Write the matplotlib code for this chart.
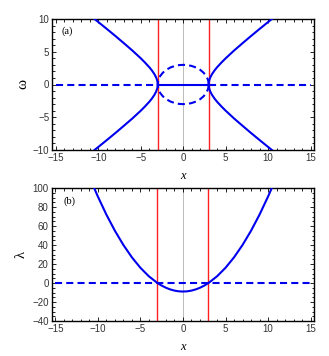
import numpy as np
import matplotlib
matplotlib.use("Agg")
import matplotlib.pyplot as plt
from matplotlib.ticker import MultipleLocator

# ---- data ----
# hyperbola branch (x >= 3, upper half) of panel (a)
hyp_x = [3.0, 3.02, 3.08, 3.2, 3.4, 3.7, 4.0, 4.5, 5.0, 6.0, 7.0, 8.0, 9.0, 10.0, 10.44]
hyp_w = [0.0, 0.35, 0.70, 1.11, 1.60, 2.17, 2.65, 3.35, 4.0, 5.20, 6.32, 7.42, 8.49, 9.54, 10.0]
# dashed circle, upper right quarter (x from 0 to 3)
circ_x = [0.0, 0.5, 1.0, 1.5, 2.0, 2.4, 2.7, 2.9, 2.97, 3.0]
circ_w = [3.0, 2.96, 2.83, 2.60, 2.24, 1.80, 1.31, 0.77, 0.42, 0.0]
# parabola of panel (b), right half
par_x = [0.0, 0.5, 1.0, 1.5, 2.0, 2.5, 3.0, 4.0, 5.0, 6.0, 7.0, 8.0, 9.0, 10.0, 10.44]
par_l = [-9.0, -8.75, -8.0, -6.75, -5.0, -2.75, 0.0, 7.0, 16.0, 27.0, 40.0, 55.0, 72.0, 91.0, 100.0]
red_x = [-3.0, 3.0]
x_ticks = [-15, -10, -5, 0, 5, 10, 15]
w_ticks = [-10, -5, 0, 5, 10]
l_ticks = [-40, -20, 0, 20, 40, 60, 80, 100]

W, H = 329, 356
fig = plt.figure(figsize=(W / 100, H / 100), dpi=100)
fig.patch.set_facecolor("white")

BLUE = "#0000ee"
serif = ["Liberation Serif", "DejaVu Serif"]
sans = ["Liberation Sans", "DejaVu Sans"]
DASH = (0, (3.4, 2.0))


def ax_at(l, t, r, b):
    return fig.add_axes([l / W, 1 - b / H, (r - l) / W, (b - t) / H])


def style(ax, yt, ymin):
    ax.set_xlim(-15.45, 15.4)
    ax.set_xticks(x_ticks)
    ax.set_yticks(yt)
    ax.xaxis.set_minor_locator(MultipleLocator(1))
    ax.yaxis.set_minor_locator(MultipleLocator(ymin))
    ax.tick_params(which="both", direction="in", top=True, right=True,
                   labelsize=7, labelcolor="#333333", width=0.6, pad=2)
    ax.tick_params(which="major", length=3.2)
    ax.tick_params(which="minor", length=1.8)
    for lab in ax.get_xticklabels() + ax.get_yticklabels():
        lab.set_family(sans)
    for s in ax.spines.values():
        s.set_linewidth(1.0)
    ax.axvline(0, color="#bbbbbb", lw=0.7, zorder=1)
    for xr in red_x:
        ax.axvline(xr, color="#ff2020", lw=1.0, zorder=2)


# ---- panel (a) ----
axa = ax_at(52, 19, 314, 150)
style(axa, w_ticks, 1)
axa.set_ylim(-10, 10)
hx = np.array(hyp_x)
hw = np.array(hyp_w)
for sx in (1, -1):
    xs = np.concatenate([sx * hx[::-1], sx * hx])
    ws = np.concatenate([hw[::-1], -hw])
    axa.plot(xs, ws, color=BLUE, lw=1.5, zorder=3)
cx = np.array(circ_x)
cw = np.array(circ_w)
loop_x = np.concatenate([cx[::-1], -cx[1:], -cx[::-1][1:], cx[1:]])
loop_w = np.concatenate([cw[::-1], cw[1:], -cw[::-1][1:], -cw[1:]])
axa.plot(loop_x, loop_w, color=BLUE, lw=1.5, ls=DASH, zorder=3)
axa.plot([-3, 3], [0, 0], color=BLUE, lw=1.5, zorder=3)
axa.plot([-15, -3], [0, 0], color=BLUE, lw=1.5, ls=DASH, zorder=3)
axa.plot([3, 15], [0, 0], color=BLUE, lw=1.5, ls=DASH, zorder=3)

# ---- panel (b) ----
axb = ax_at(51.5, 188, 314, 321)
style(axb, l_ticks, 5)
axb.set_ylim(-40, 100)
px = np.array(par_x)
pl = np.array(par_l)
axb.plot(np.concatenate([-px[::-1], px[1:]]), np.concatenate([pl[::-1], pl[1:]]),
         color=BLUE, lw=1.5, zorder=3)
axb.plot([-15, 15], [0, 0], color=BLUE, lw=1.5, ls=DASH, zorder=3)

# ---- texts ----
fig.text(67 / W, 1 - 31 / H, "(a)", family=serif, fontsize=7.5, ha="center", va="center")
fig.text(70 / W, 1 - 201 / H, "(b)", family=serif, fontsize=7.5, ha="center", va="center")
fig.text(23 / W, 1 - 84 / H, "ω", family=serif, fontsize=11, rotation=90,
         ha="center", va="center")
fig.text(21 / W, 1 - 255 / H, "λ", family=serif, fontsize=10.5, rotation=90,
         ha="center", va="center")
fig.text(183 / W, 1 - 176 / H, "x", family=serif, style="italic", fontsize=9,
         ha="center", va="center")
fig.text(183 / W, 1 - 347 / H, "x", family=serif, style="italic", fontsize=9,
         ha="center", va="center")

fig.savefig("out.png", dpi=100, facecolor="white")
